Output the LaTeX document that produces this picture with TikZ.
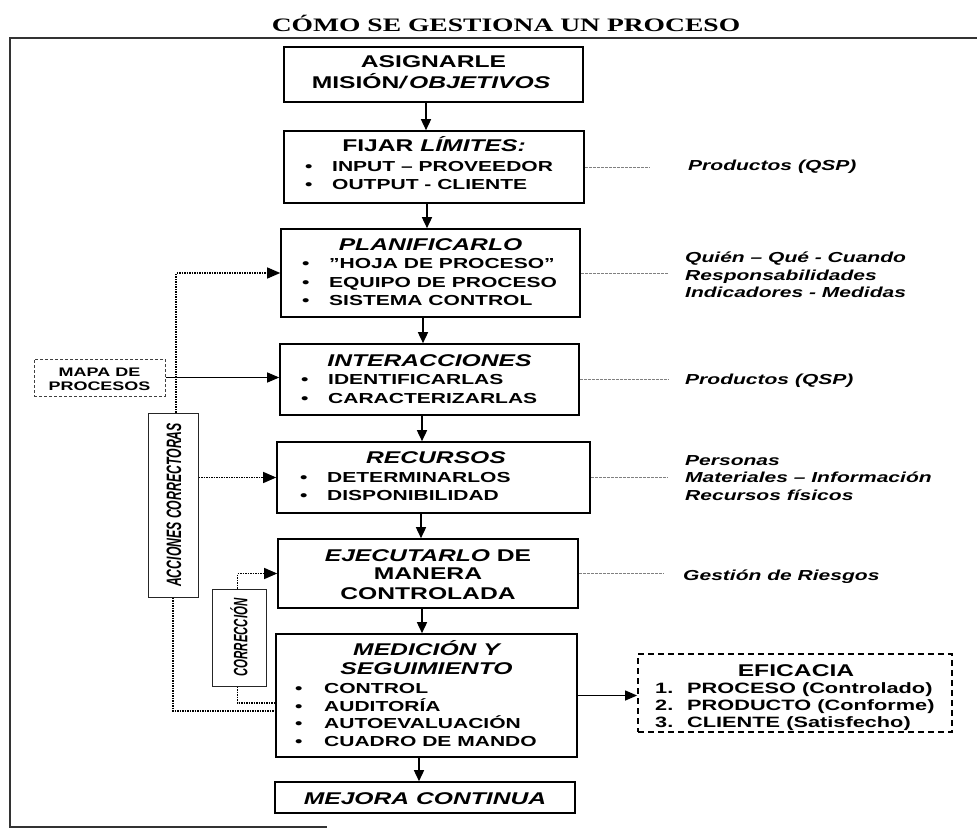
\documentclass[tikz,border=0pt]{standalone}
\usepackage{fontspec}
\usepackage{graphicx}
\setmainfont{Liberation Sans}[FakeStretch=1.45]
\newfontfamily\mytitleserif{Liberation Serif}[FakeStretch=1.45]
\newfontfamily\plainsans{Liberation Sans}
\usetikzlibrary{arrows.meta,calc}
\newcommand\mytitlef{\fontsize{17}{20}\selectfont\bfseries}
\newcommand\myitemf{\fontsize{14.5}{17}\selectfont\bfseries}
\newcommand\mysidef{\fontsize{14.5}{17.3}\selectfont\bfseries\itshape}
\newcommand\myeff{\fontsize{15}{18}\selectfont\bfseries}
\newcommand\itm[2][27pt]{\makebox[#1][l]{\textbullet}#2}
\begin{document}
\begin{tikzpicture}[x=1pt,y=-1pt,
  box/.style={draw, line width=1.6pt, inner sep=0pt},
  lab/.style={inner sep=0pt, anchor=base},
  itemlab/.style={inner sep=0pt, anchor=base west, font=\myitemf},
  arr/.style={line width=1.5pt, -{Triangle[length=11pt,width=10pt]}},
  dots/.style={line width=1.2pt, dash pattern=on 1.5pt off 1pt},
  dtip/.style={-{Triangle[length=13pt,width=11pt]}},
  guide/.style={draw=black!50, line width=0.6pt, dash pattern=on 3pt off 1pt},
  side/.style={inner sep=0pt, anchor=west, align=left, font=\mysidef},
]
\useasboundingbox (0,0) rectangle (977,829);
% frame
\draw[line width=1.3pt, black!80] (977,38) -- (10,38) -- (10,827) -- (327,827);
% title
\node[lab, font=\mytitleserif\fontsize{19}{22}\selectfont\bfseries] (title) at (506,31.5) {CÓMO SE GESTIONA UN PROCESO};

% main boxes
\node[box, minimum width=299pt, minimum height=55pt] (b1) at (433.5,74.5) {};
\node[box, minimum width=300pt, minimum height=72pt] (b2) at (434,167) {};
\node[box, minimum width=299pt, minimum height=88pt] (b3) at (430.5,273) {};
\node[box, minimum width=299pt, minimum height=71pt] (b4) at (429.5,379.5) {};
\node[box, minimum width=313pt, minimum height=71pt] (b5) at (433.5,477.5) {};
\node[box, minimum width=300pt, minimum height=69pt] (b6) at (428,573.5) {};
\node[box, minimum width=301pt, minimum height=123pt] (b7) at (426.5,695.5) {};
\node[box, minimum width=300pt, minimum height=31pt] (b8) at (425,797.5) {};

% box texts
\node[lab, font=\mytitlef] (t1a) at (433.5,68) {ASIGNARLE};
\node[lab, font=\mytitlef] (t1b) at (431,89) {MISIÓN\textit{/\,OBJETIVOS}};

\node[lab, font=\mytitlef] (t2a) at (434,152) {FIJAR \textit{LÍMITES:}};
\node[itemlab] (t2b) at (305,172) {\itm{INPUT – PROVEEDOR}};
\node[itemlab] (t2c) at (305,190) {\itm{OUTPUT - CLIENTE}};

\node[lab, font=\mytitlef\itshape] (t3a) at (430.5,251) {PLANIFICARLO};
\node[itemlab] (t3b) at (302,268) {\itm{"HOJA DE PROCESO"}};
\node[itemlab] (t3c) at (302,287) {\itm{EQUIPO DE PROCESO}};
\node[itemlab] (t3d) at (302,305) {\itm{SISTEMA CONTROL}};

\node[lab, font=\mytitlef\itshape] (t4a) at (429.5,366) {INTERACCIONES};
\node[itemlab] (t4b) at (301,384) {\itm{IDENTIFICARLAS}};
\node[itemlab] (t4c) at (301,403) {\itm{CARACTERIZARLAS}};

\node[lab, font=\mytitlef\itshape] (t5a) at (436,463) {RECURSOS};
\node[itemlab] (t5b) at (300,482) {\itm{DETERMINARLOS}};
\node[itemlab] (t5c) at (300,500) {\itm{DISPONIBILIDAD}};

\node[lab, font=\mytitlef] (t6a) at (428,561) {\textit{EJECUTARLO} DE};
\node[lab, font=\mytitlef] (t6b) at (428,579) {MANERA};
\node[lab, font=\mytitlef] (t6c) at (428,599) {CONTROLADA};

\node[lab, font=\mytitlef\itshape] (t7a) at (426.5,655) {MEDICIÓN Y};
\node[lab, font=\mytitlef\itshape] (t7b) at (426.5,674) {SEGUIMIENTO};
\node[itemlab] (t7c) at (295,693) {\itm[29pt]{CONTROL}};
\node[itemlab] (t7d) at (295,711) {\itm[29pt]{AUDITORÍA}};
\node[itemlab] (t7e) at (295,728) {\itm[29pt]{AUTOEVALUACIÓN}};
\node[itemlab] (t7f) at (295,746) {\itm[29pt]{CUADRO DE MANDO}};

\node[lab, font=\mytitlef\itshape] (t8a) at (425,804) {MEJORA CONTINUA};

% main arrows
\draw[arr] ([xshift=-7.5pt]b1.south) -- ([xshift=-8pt]b2.north);
\draw[arr] ([xshift=-7pt]b2.south) -- ([xshift=-3.5pt]b3.north);
\draw[arr] ([xshift=-7.5pt]b3.south) -- ([xshift=-6.5pt]b4.north);
\draw[arr] ([xshift=-7.5pt]b4.south) -- ([xshift=-11.5pt]b5.north);
\draw[arr] ([xshift=-12.5pt]b5.south) -- ([xshift=-7pt]b6.north);
\draw[arr] ([xshift=-6pt]b6.south) -- ([xshift=-4.5pt]b7.north);
\draw[arr] ([xshift=-7.5pt]b7.south) -- ([xshift=-6pt]b8.north);

% side texts
\node[side] (s2) at (688,167) {Productos (QSP)};
\node[side] (s3) at (685,275) {Quién – Qué - Cuando\\Responsabilidades\\Indicadores - Medidas};
\node[side] (s4) at (685,381) {Productos (QSP)};
\node[side] (s5) at (685,478) {Personas\\Materiales – Información\\Recursos físicos};
\node[side] (s6) at (683,577) {Gestión de Riesgos};
\draw[guide] (b2.east) -- ($(b2.east -| s2.west)+(-38,0)$);
\draw[guide] (b3.east) -- ($(b3.east -| s3.west)+(-17,0)$);
\draw[guide] (b4.east) -- ($(b4.east -| s4.west)+(-17,0)$);
\draw[guide] (b5.east) -- ($(b5.east -| s5.west)+(-17,0)$);
\draw[guide] (b6.east) -- ($(b6.east -| s6.west)+(-20,0)$);

% eficacia
\node[draw, line width=1.8pt, dash pattern=on 6pt off 4pt, minimum width=314pt, minimum height=78pt, inner sep=0pt] (ef) at (795,693) {};
\node[lab, font=\mytitlef] (efa) at (796,676) {EFICACIA};
\node[inner sep=0pt, anchor=base west, font=\myeff] (efb) at (655,693) {\makebox[32pt][l]{1.}PROCESO (Controlado)};
\node[inner sep=0pt, anchor=base west, font=\myeff] (efc) at (655,710) {\makebox[32pt][l]{2.}PRODUCTO (Conforme)};
\node[inner sep=0pt, anchor=base west, font=\myeff] (efd) at (655,727) {\makebox[32pt][l]{3.}CLIENTE (Satisfecho)};
\draw[line width=1.2pt, -{Triangle[length=12pt,width=10pt]}] (b7.east) -- (b7.east -| ef.west);

% mapa de procesos
\node[draw=black!75, line width=1pt, dash pattern=on 3pt off 2pt, minimum width=131pt, minimum height=37pt, inner sep=0pt] (mapa) at (99.5,377.5) {};
\node[lab, font=\fontsize{12.4}{14}\selectfont\bfseries] (mapaa) at (99.5,376.5) {MAPA DE};
\node[lab, font=\fontsize{12.4}{14}\selectfont\bfseries] (mapab) at (99.5,390.5) {PROCESOS};
\draw[line width=1pt, -{Triangle[length=12pt,width=10pt]}] (mapa.east) -- (mapa.east -| b4.west);

% acciones correctoras
\node[draw=black!85, line width=1pt, minimum width=50pt, minimum height=184pt, inner sep=0pt] (acc) at (173,505) {};
\node[rotate=90, inner sep=0pt] (acct) at (174,505) {\scalebox{1}[1.7]{\plainsans\fontsize{12.25}{14}\selectfont\bfseries\itshape ACCIONES CORRECTORAS}};
% correccion
\node[draw=black!85, line width=1pt, minimum width=54pt, minimum height=97pt, inner sep=0pt] (cor) at (239,637.5) {};
\node[rotate=90, inner sep=0pt] (cort) at (239,637.5) {\scalebox{1}[1.7]{\plainsans\fontsize{11.4}{13}\selectfont\bfseries\itshape CORRECCIÓN}};

% dotted connectors
\draw[dots, dtip] ([xshift=3pt]acc.north) |- (b3.west);
\draw[dots, dtip] (acc.east |- b5.west) -- (b5.west);
\draw[dots] (acc.south) |- ([yshift=-15.5pt]b7.west);
\draw[dots, dtip] ([xshift=-1.5pt]cor.north) |- (b6.west);
\draw[dots] ([xshift=-1.5pt]cor.south) |- ([yshift=-7.5pt]b7.west);
\end{tikzpicture}
\end{document}
